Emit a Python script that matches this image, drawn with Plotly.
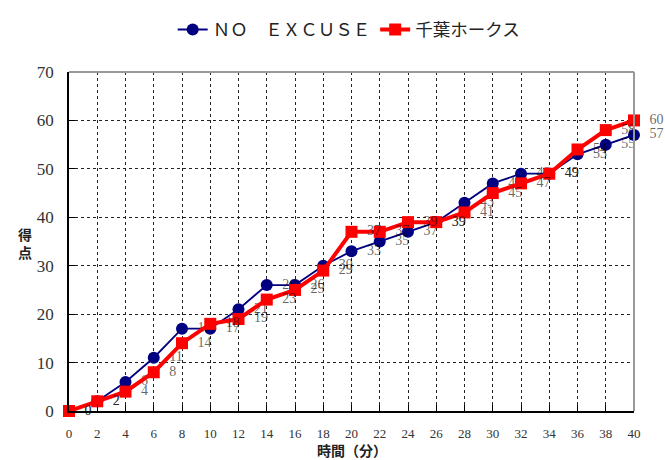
import plotly.graph_objects as go

minutes = [0, 2, 4, 6, 8, 10, 12, 14, 16, 18, 20, 22, 24, 26, 28, 30, 32, 34, 36, 38, 40]
no_excuse = [0, 2, 6, 11, 17, 17, 21, 26, 26, 30, 33, 35, 37, 39, 43, 47, 49, 49, 53, 55, 57]
chiba = [0, 2, 4, 8, 14, 18, 19, 23, 25, 29, 37, 37, 39, 39, 41, 45, 47, 49, 54, 58, 60]
x_ticks = list(range(0, 41, 2))
y_ticks = list(range(0, 71, 10))

serif = "Liberation Serif, Times New Roman, serif"
cjk = "Noto Sans CJK JP, Liberation Serif, serif"
lab_font = dict(family=serif, size=14, color="rgba(0,0,0,0.62)")

fig = go.Figure()
fig.add_trace(go.Scatter(
    x=minutes, y=no_excuse, name="ＮＯ　ＥＸＣＵＳＥ",
    mode="lines+markers+text", text=["  " + str(v) for v in no_excuse],
    textposition="middle right", textfont=lab_font,
    line=dict(color="#000080", width=1.8),
    marker=dict(symbol="circle", size=12, color="#000080"),
    cliponaxis=False,
))
fig.add_trace(go.Scatter(
    x=minutes, y=chiba, name="千葉ホークス",
    mode="lines+markers+text", text=["  " + str(v) for v in chiba],
    textposition="middle right", textfont=lab_font,
    line=dict(color="#FF0000", width=4),
    marker=dict(symbol="square", size=12, color="#FF0000"),
    cliponaxis=False,
))

fig.update_layout(
    width=665, height=460,
    margin=dict(l=69, r=31, t=53, b=49),
    paper_bgcolor="white", plot_bgcolor="white",
    font=dict(family=serif, color="#333333"),
    legend=dict(orientation="h", x=0.495, xanchor="center", y=1.125, yanchor="middle",
                font=dict(family=cjk, size=17.5, color="#222"),
                itemwidth=30, tracegroupgap=0),
    showlegend=True,
    shapes=[
        dict(type="line", xref="paper", yref="paper", x0=0, x1=1, y0=1, y1=1,
             line=dict(color="#999999", width=2)),
        dict(type="line", xref="paper", yref="paper", x0=1, x1=1, y0=0, y1=1,
             line=dict(color="#999999", width=2)),
    ],
)
fig.update_xaxes(
    range=[0, 40], tickvals=x_ticks, ticktext=[str(v) for v in x_ticks],
    tickfont=dict(family=serif, size=13, color="#333"),
    showline=True, linecolor="black", linewidth=1.5,
    showgrid=True, gridcolor="#222222", griddash="dot", gridwidth=1,
    ticks="inside", ticklen=6, tickcolor="black",
    zeroline=False, ticklabelstandoff=10, automargin=False,
)
fig.update_yaxes(
    range=[0, 70], tickvals=y_ticks, ticktext=[str(v) for v in y_ticks],
    tickfont=dict(family=serif, size=17, color="#333"),
    showline=True, linecolor="black", linewidth=1.5,
    showgrid=True, gridcolor="#222222", griddash="dot", gridwidth=1,
    ticks="inside", ticklen=6, tickcolor="black",
    zeroline=False, ticklabelstandoff=10, automargin=False,
)
fig.add_annotation(text="<b>得<br>点</b>", xref="paper", yref="paper", x=-0.078, y=0.497,
                   showarrow=False, font=dict(family=cjk, size=14, color="#222"),
                   xanchor="center", yanchor="middle")
fig.add_annotation(text="<b>時間（分）</b>", xref="paper", yref="paper", x=0.5, y=-0.114,
                   showarrow=False, font=dict(family=cjk, size=14, color="#222"),
                   xanchor="center", yanchor="middle")
fig.write_html("out.html", config={"displayModeBar": False},
               post_script="document.body.style.margin='0';document.body.style.padding='0';")
